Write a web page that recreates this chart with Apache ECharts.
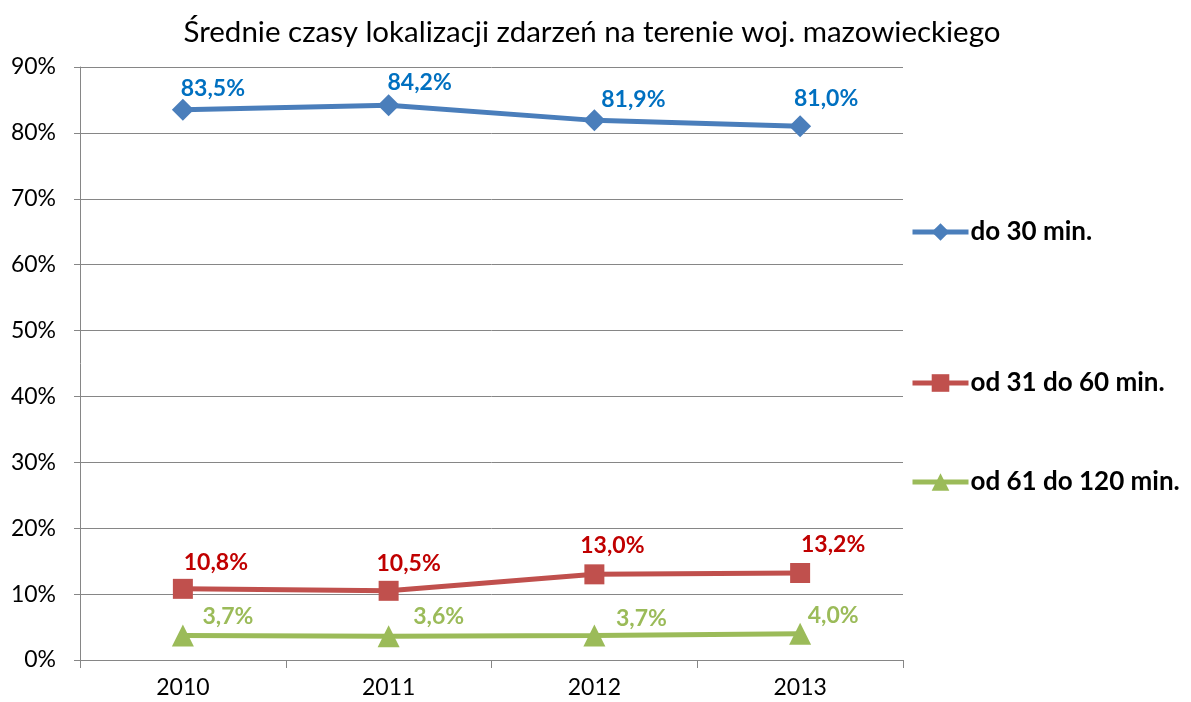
<!DOCTYPE html>
<html>
<head>
<meta charset="utf-8">
<script src="https://cdn.jsdelivr.net/npm/echarts@6/dist/echarts.min.js"></script>
<style>
  html, body { margin: 0; padding: 0; background: #fff; }
  #chart { width: 1191px; height: 702px; }
</style>
</head>
<body>
<div id="chart"></div>
<script>
var years = ["2010", "2011", "2012", "2013"];
var do30 = [83.5, 84.2, 81.9, 81.0];
var od31do60 = [10.8, 10.5, 13.0, 13.2];
var od61do120 = [3.7, 3.6, 3.7, 4.0];
var seriesNames = ["do 30 min.", "od 31 do 60 min.", "od 61 do 120 min."];

// przesunięcia etykiet (jak ręcznie ustawione w arkuszu)
var labelShift = [
  [[30, -21], [31, -23], [39, -21], [26, -28]],
  [[33, -26], [20, -27], [18, -29], [33, -28]],
  [[45, -19], [50, -20], [47, -17], [33, -18]]
];

var font = "Lato, 'Open Sans', sans-serif";
var gridColor = "#868686";

function fmt(v) {
  return v.toFixed(1).replace(".", ",") + "%";
}

function points(values, idx) {
  return values.map(function (v, i) {
    return { value: v, label: { offset: labelShift[idx][i] } };
  });
}

function makeSeries(name, values, idx, color, labelColor, symbol, size) {
  return {
    name: name,
    type: "line",
    data: points(values, idx),
    symbol: symbol,
    symbolSize: size,
    lineStyle: { width: 5, color: color },
    itemStyle: { color: color },
    label: {
      show: true,
      position: "inside",
      formatter: function (p) { return fmt(p.value); },
      color: labelColor,
      fontFamily: font,
      fontWeight: "bold",
      fontSize: 23
    },
    emphasis: { disabled: true }
  };
}

var chart = echarts.init(document.getElementById("chart"));

chart.setOption({
  animation: false,
  title: {
    text: "Średnie czasy lokalizacji zdarzeń na terenie woj. mazowieckiego",
    left: 587,
    textAlign: "center",
    top: 12,
    textStyle: { fontFamily: font, fontWeight: "normal", fontSize: 29.5, color: "#000" }
  },
  legend: [0, 1, 2].map(function (i) {
    return {
      data: [seriesNames[i]],
      left: 905,
      top: [214, 365, 464][i],
      itemWidth: 56,
      itemHeight: 22,
      itemGap: 0,
      lineStyle: { width: 5 },
      textStyle: { fontFamily: font, fontWeight: "bold", fontSize: 26, color: "#000", padding: [0, 0, 0, -3] }
    };
  }),
  grid: { left: 80, right: 288, top: 67, bottom: 42 },
  xAxis: {
    type: "category",
    data: years,
    boundaryGap: true,
    axisLine: { lineStyle: { color: gridColor, width: 1 } },
    axisTick: { show: true, length: 8, interval: 0, lineStyle: { color: gridColor } },
    axisLabel: { fontFamily: font, fontSize: 23, color: "#000", margin: 16 }
  },
  yAxis: {
    type: "value",
    min: 0,
    max: 90,
    interval: 10,
    axisLine: { show: true, lineStyle: { color: gridColor, width: 1 } },
    axisTick: { show: true, length: 6, lineStyle: { color: gridColor } },
    splitLine: { lineStyle: { color: gridColor, width: 1 } },
    axisLabel: {
      fontFamily: font,
      fontSize: 23,
      color: "#000",
      margin: 24,
      formatter: "{value}%"
    }
  },
  series: [
    makeSeries(seriesNames[0], do30, 0, "#4A7EBB", "#0070C0", "diamond", 22),
    makeSeries(seriesNames[1], od31do60, 1, "#C0504D", "#C00000", "rect", 20),
    makeSeries(seriesNames[2], od61do120, 2, "#9BBB59", "#9BBB59", "triangle", 22)
  ]
});
</script>
</body>
</html>
